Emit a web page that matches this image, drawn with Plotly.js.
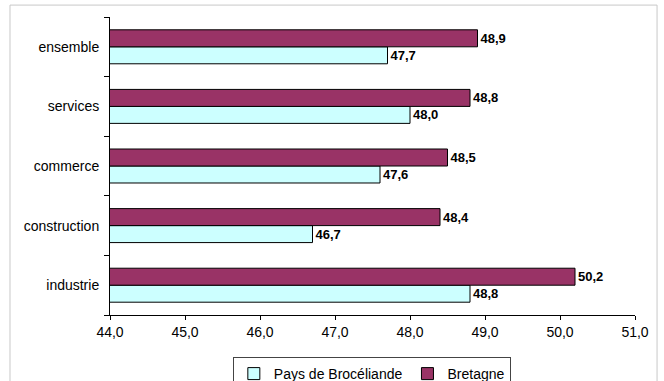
<!DOCTYPE html>
<html><head><meta charset="utf-8">
<script src="https://cdn.plot.ly/plotly-3.0.1.min.js"></script>
<style>html,body{margin:0;padding:0;background:#fff;}#chart{width:664px;height:381px;}</style>
</head><body><div id="chart"></div>
<script>
var categories = ["industrie", "construction", "commerce", "services", "ensemble"];
var broceliande = [48.8, 46.7, 47.6, 48.0, 47.7];
var bretagne = [50.2, 48.4, 48.5, 48.8, 48.9];
var seriesNames = ["Pays de Brocéliande", "Bretagne"];
var xTicks = [44, 45, 46, 47, 48, 49, 50, 51];

function fmt(v){ return v.toFixed(1).replace('.', ','); }

var common = {
  type: 'bar', orientation: 'h', y: categories,
  textposition: 'outside', cliponaxis: false,
  textfont: {family: 'Liberation Sans, Arial, sans-serif', size: 13, color: '#000', weight: 'bold'},
  hoverinfo: 'none'
};
var t1 = Object.assign({}, common, {
  name: seriesNames[0], x: broceliande, text: broceliande.map(fmt),
  marker: {color: '#ccffff', line: {color: '#000', width: 1}}
});
var t2 = Object.assign({}, common, {
  name: seriesNames[1], x: bretagne, text: bretagne.map(fmt),
  marker: {color: '#993366', line: {color: '#000', width: 1}}
});

var layout = {
  width: 664, height: 381,
  margin: {l: 110, r: 29, t: 17, b: 66},
  paper_bgcolor: '#fff', plot_bgcolor: '#fff',
  font: {family: 'Liberation Sans, Arial, sans-serif', size: 14, color: '#000'},
  barmode: 'group', bargap: 0.43, bargroupgap: 0,
  showlegend: true,
  legend: {orientation: 'h', xref: 'container', yref: 'container',
    x: 0.56, xanchor: 'center', y: 0.063, yanchor: 'top',
    bordercolor: '#444', borderwidth: 1, font: {size: 14}, traceorder: 'normal',
    itemwidth: 30, tracegroupgap: 0},
  xaxis: {range: [44, 51], tickvals: xTicks, ticktext: xTicks.map(fmt),
    showgrid: false, zeroline: false, showline: true, linecolor: '#000', linewidth: 1,
    ticks: 'outside', ticklen: 4, tickcolor: '#000', fixedrange: true, automargin: false},
  yaxis: {showgrid: false, zeroline: false, showline: true, linecolor: '#000', linewidth: 1,
    ticks: 'outside', ticklen: 5, tickcolor: '#000', tickson: 'boundaries', ticklabelstandoff: 7,
    fixedrange: true, automargin: false},
  shapes: [{type: 'rect', xref: 'paper', yref: 'paper', x0: -0.1905, x1: 1.042, y0: -0.3, y1: 1.040,
    line: {color: '#c8c8c8', width: 1}, fillcolor: 'rgba(0,0,0,0)', layer: 'below'}]
};

Plotly.newPlot('chart', [t1, t2], layout, {displayModeBar: false, staticPlot: true});
</script></body></html>
